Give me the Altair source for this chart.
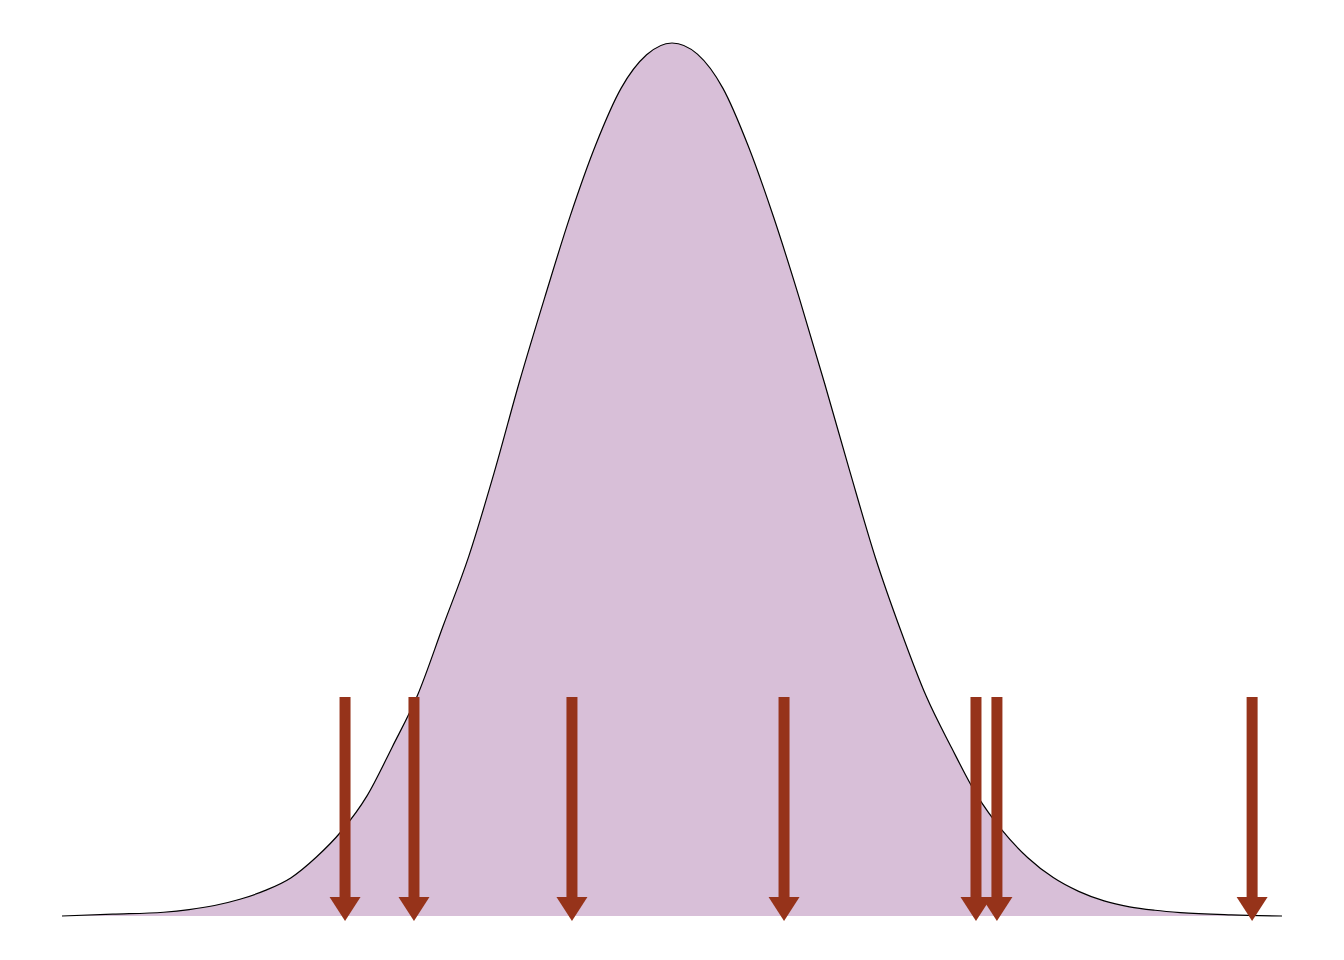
import altair as alt
import pandas as pd

# density curve
curve_x = [-3.000, -2.750, -2.500, -2.375, -2.250, -2.125, -2.000, -1.875, -1.750, -1.625,
           -1.500, -1.375, -1.250, -1.125, -1.000, -0.875, -0.750, -0.625, -0.500, -0.375,
           -0.250, -0.125, 0.000, 0.125, 0.250, 0.375, 0.500, 0.625, 0.750, 0.875,
           1.000, 1.125, 1.250, 1.375, 1.500, 1.625, 1.750, 1.875, 2.000, 2.125,
           2.250, 2.375, 2.500, 2.750, 3.000]
curve_y = [0.0000, 0.0011, 0.0023, 0.0039, 0.0064, 0.0102, 0.0156, 0.0232, 0.0358, 0.0518,
           0.0732, 0.1032, 0.1350, 0.1770, 0.2190, 0.2700, 0.3257, 0.3773, 0.4268, 0.4700,
           0.5045, 0.5248, 0.5320, 0.5252, 0.5045, 0.4692, 0.4258, 0.3770, 0.3248, 0.2708,
           0.2185, 0.1740, 0.1340, 0.1025, 0.0735, 0.0520, 0.0355, 0.0234, 0.0150, 0.0092,
           0.0056, 0.0035, 0.0021, 0.0007, 0.0000]

# sample points marked by arrows
arrow_x = [-1.608, -1.269, -0.492, 0.551, 1.495, 1.598, 2.853]
arrow_top = 0.1335
arrow_shaft_end = 0.0098
arrow_head_y = 0.0043

FILL = "#D8BFD8"
ARROW = "#96331A"

curve = pd.DataFrame({"x": curve_x, "y": curve_y})
arrows = pd.DataFrame({"x": arrow_x,
                       "y": [arrow_top] * len(arrow_x),
                       "y2": [arrow_shaft_end] * len(arrow_x),
                       "yh": [arrow_head_y] * len(arrow_x)})

xs = alt.Scale(domain=[-3, 3], nice=False, zero=False)
ys = alt.Scale(domain=[0, 0.532], nice=False, zero=False)

area = alt.Chart(curve).mark_area(color=FILL, opacity=1, interpolate="monotone").encode(
    x=alt.X("x:Q", scale=xs, axis=None),
    y=alt.Y("y:Q", scale=ys, axis=None),
)
line = alt.Chart(curve).mark_line(color="black", strokeWidth=1.2, interpolate="monotone").encode(
    x=alt.X("x:Q", scale=xs, axis=None),
    y=alt.Y("y:Q", scale=ys, axis=None),
)
shaft = alt.Chart(arrows).mark_rule(color=ARROW, strokeWidth=11, strokeCap="butt").encode(
    x=alt.X("x:Q", scale=xs, axis=None),
    y=alt.Y("y:Q", scale=ys, axis=None),
    y2="y2:Q",
)
head = alt.Chart(arrows).mark_point(
    shape="M -1 -0.774 L 1 -0.774 L 0 0.774 Z",
    size=961, filled=True, color=ARROW, opacity=1, strokeWidth=0,
).encode(
    x=alt.X("x:Q", scale=xs, axis=None),
    y=alt.Y("yh:Q", scale=ys, axis=None),
)

chart = (area + line + shaft + head).properties(
    width=1220, height=873,
    background="white",
    padding={"left": 54, "top": 35, "right": 54, "bottom": 36},
    autosize=alt.AutoSizeParams(type="none"),
).configure_view(strokeWidth=0, stroke="transparent")

chart.save("out.html", embed_options={"renderer": "svg", "actions": False})
